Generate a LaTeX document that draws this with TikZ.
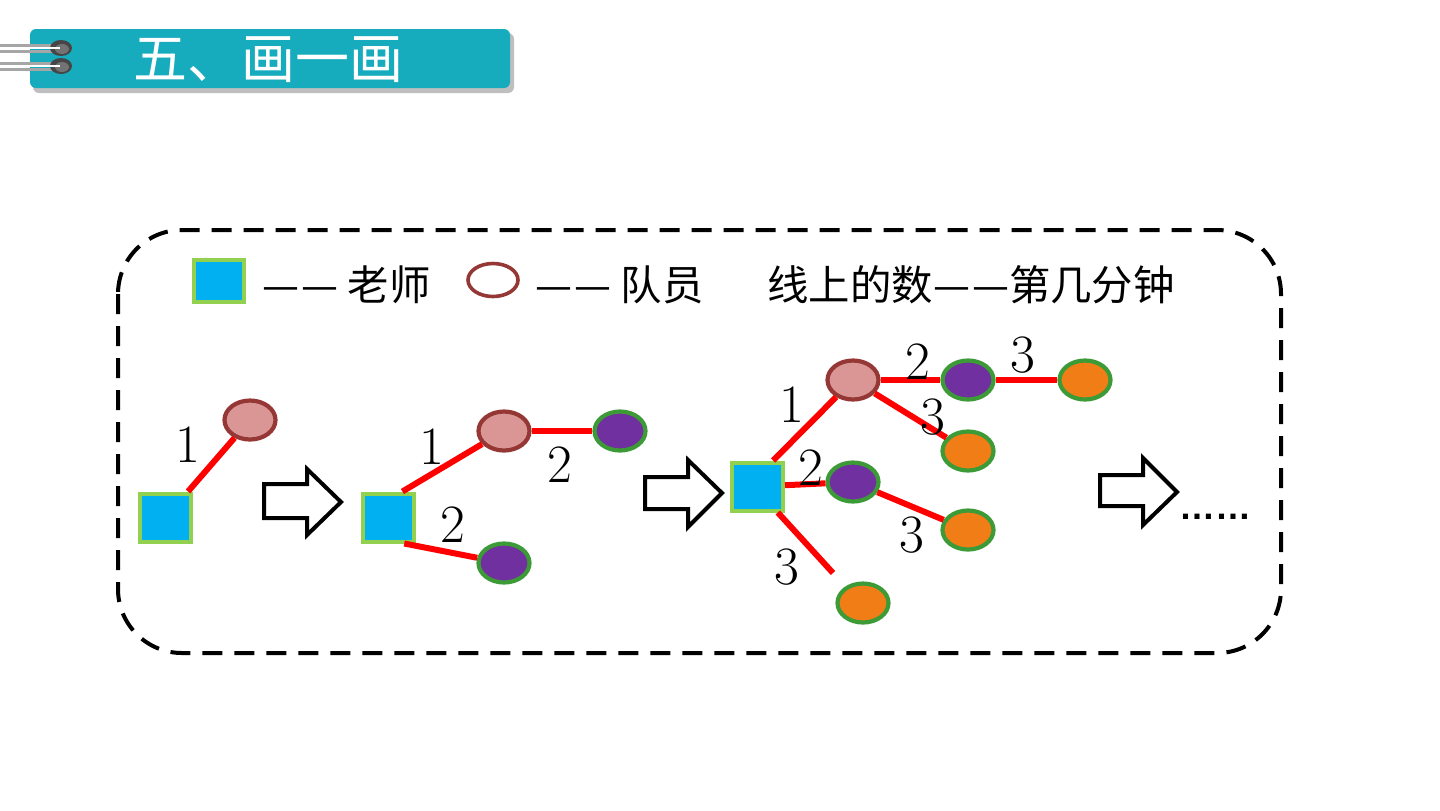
\documentclass[tikz,border=0pt]{standalone}
\usepackage{fontspec}
\newfontfamily\cjk{Noto Sans CJK SC}
\newfontfamily\dotsfont{Liberation Sans}
\usetikzlibrary{shapes.geometric}
\definecolor{bannerteal}{RGB}{22,172,190}
\definecolor{sqfill}{RGB}{0,176,240}
\definecolor{sqborder}{RGB}{146,208,80}
\definecolor{pinkfill}{RGB}{217,150,148}
\definecolor{pinkborder}{RGB}{149,55,53}
\definecolor{purplefill}{RGB}{112,48,160}
\definecolor{greenborder}{RGB}{60,155,55}
\definecolor{orangefill}{RGB}{240,125,22}
\definecolor{ringdark}{RGB}{70,70,70}
\tikzset{
  teacher/.style={rectangle, draw=sqborder, fill=sqfill, line width=2pt, minimum width=25.5pt, minimum height=24pt, inner sep=0pt},
  member/.style={ellipse, draw=pinkborder, fill=pinkfill, line width=2.1pt, minimum width=25.5pt, minimum height=19.5pt, inner sep=0pt},
  kid/.style={ellipse, draw=greenborder, fill=purplefill, line width=2.1pt, minimum width=25.5pt, minimum height=19.5pt, inner sep=0pt},
  kidb/.style={ellipse, draw=greenborder, fill=orangefill, line width=2.1pt, minimum width=25.5pt, minimum height=19.5pt, inner sep=0pt},
  link/.style={draw=red, line width=3pt},
  num/.style={font=\fontsize{27}{27}\selectfont, inner sep=0pt},
  legendtext/.style={font=\cjk\fontsize{20.7}{20.7}\selectfont, inner sep=0pt, anchor=west},
  blockarrow/.style={draw=black, fill=white, line width=2pt, line join=miter},
  frame/.style={draw=black, line width=2pt, dash pattern=on 10pt off 6pt, rounded corners=32pt}
}
\begin{document}
\begin{tikzpicture}[x=0.5pt,y=-0.5pt]
\useasboundingbox (0,0) rectangle (1440,810);

% ---- title banner ----
\fill[black!25, rounded corners=3pt] (33,33) rectangle (514,93);
\fill[bannerteal, rounded corners=3pt] (30,29) rectangle (510,88);
\node[font=\cjk\fontsize{27}{27}\selectfont, text=white, inner sep=0pt] (title) at (268,60) {五、画一画};
\foreach \yy in {48,66}{
  \draw[black!35, line width=1.5pt] (0,\yy-3) -- (56,\yy-3);
  \draw[black!35, line width=1.5pt] (0,\yy+3) -- (56,\yy+3);
  \draw[white, line width=1.2pt] (30,\yy) -- (56,\yy);
  \fill[ringdark] (61,\yy) ellipse [x radius=11, y radius=8];
  \fill[black!55] (62,\yy+1) ellipse [x radius=7, y radius=5];
  \draw[white, line width=1pt] (40,\yy) -- (60,\yy);
}

% ---- dashed frame ----
\draw[frame] (118,230) rectangle (1281,653);

% ---- legend ----
\node[rectangle, draw=sqborder, fill=sqfill, line width=2pt, minimum width=25pt, minimum height=21pt, inner sep=0pt] (lsq) at (218.5,280.5) {};
\node[legendtext] (lt1) at (262,285) {—\kern1pt— 老师};
\node[ellipse, draw=pinkborder, fill=white, line width=1.8pt, minimum width=25pt, minimum height=16.5pt, inner sep=0pt] (lel) at (493,280) {};
\node[legendtext] (lt2) at (535,285) {—\kern1pt— 队员};
\node[legendtext] (lt3) at (767,285) {线上的数—\kern1pt—第几分钟};

% ---- diagram 1 ----
\node[teacher] (sqA) at (165.5,517.5) {};
\node[member] (pkA) at (250,420) {};
\draw[link] (sqA) -- (pkA);
\node[num] (nA1) at (188,445) {1};

% ---- arrow 1 ----
\draw[blockarrow] (264,484) -- (307,484) -- (307,469) -- (341,502) -- (307,535) -- (307,518) -- (264,518) -- cycle;

% ---- diagram 2 ----
\node[teacher] (sqB) at (388,517.5) {};
\node[member] (pkB) at (504,431) {};
\node[kid] (puB1) at (620,431) {};
\node[kid] (puB2) at (504,563) {};
\draw[link] (sqB.61) -- (pkB);
\draw[link] (pkB) -- (puB1);
\draw[link] (sqB.-58) -- (puB2);
\node[num] (nB1) at (432,447) {1};
\node[num] (nB2) at (560,465) {2};
\node[num] (nB3) at (453,525) {2};

% ---- arrow 2 ----
\draw[blockarrow] (645,477) -- (688,477) -- (688,460) -- (722,493) -- (688,527) -- (688,509) -- (645,509) -- cycle;

% ---- diagram 3 ----
\node[teacher] (sqC) at (757.5,486.5) {};
\node[member] (pkC) at (853,380) {};
\node[kid] (puC1) at (968,380) {};
\node[kidb] (orC1) at (1085,380) {};
\node[kidb] (orC2) at (968,451) {};
\node[kid] (puC2) at (853,482) {};
\node[kidb] (orC3) at (968,530) {};
\node[kidb] (orC4) at (863,603) {};
\coordinate (endC) at (833,573);
\draw[link] (sqC.59) -- (pkC);
\draw[link] (pkC) -- (puC1);
\draw[link] (puC1) -- (orC1);
\draw[link] (pkC) -- (orC2);
\draw[link] (sqC) -- (puC2);
\draw[link] (puC2) -- (orC3);
\draw[link] (sqC.-52) -- (endC);
\node[num] (nC1) at (792,405) {1};
\node[num] (nC2) at (918,362) {2};
\node[num] (nC3) at (1023,355) {3};
\node[num] (nC4) at (933,417) {3};
\node[num] (nC5) at (811,468) {2};
\node[num] (nC6) at (912,535) {3};
\node[num] (nC7) at (787,567) {3};

% ---- arrow 3 ----
\draw[blockarrow] (1100,475) -- (1143,475) -- (1143,458) -- (1177,492) -- (1143,525) -- (1143,506) -- (1100,506) -- cycle;
\node[anchor=base west, inner sep=0pt, font=\dotsfont\bfseries\fontsize{18}{18}\selectfont] (dots) at (1179,519) {……};
\end{tikzpicture}
\end{document}
